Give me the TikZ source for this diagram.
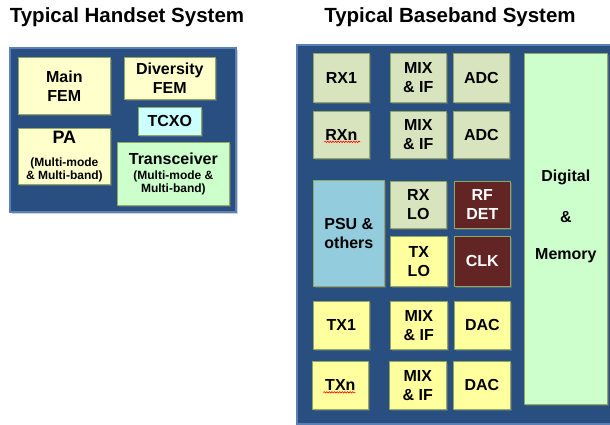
\documentclass[tikz,border=0pt]{standalone}
\usepackage{fontspec}
\setmainfont{Liberation Sans}
\usetikzlibrary{shadows,decorations.pathmorphing,calc}
\definecolor{panelblue}{HTML}{294E80}
\definecolor{panelrim}{HTML}{5A80B6}
\definecolor{boxrim}{HTML}{8FA862}
\definecolor{paleyellow}{HTML}{FFFFCC}
\definecolor{txyellow}{HTML}{FFFF9E}
\definecolor{rxgreen}{HTML}{D8E4BE}
\definecolor{mint}{HTML}{CCFFCC}
\definecolor{icecyan}{HTML}{CCFFFF}
\definecolor{psublue}{HTML}{93CDDD}
\definecolor{maroon}{HTML}{632523}
\newcommand\subtxt{\bfseries\fontsize{12}{12.5}\selectfont}
\tikzset{
  x=1pt, y=-1pt,
  panel/.style={draw=panelrim, line width=1.2pt, fill=panelblue,
    drop shadow={opacity=0.35, shadow xshift=2pt, shadow yshift=-2pt}},
  block/.style={draw=boxrim, line width=0.7pt, anchor=north west,
    inner sep=0pt, align=center, text=black,
    font=\bfseries\fontsize{16}{19}\selectfont,
    drop shadow={opacity=0.45, shadow xshift=1.5pt, shadow yshift=-1.5pt}},
  heading/.style={font=\bfseries\fontsize{20.5}{24}\selectfont, text=black},
  spell/.style={draw=red, line width=0.6pt,
    decorate, decoration={snake, amplitude=0.7pt, segment length=2.6pt}}
}
\begin{document}
\begin{tikzpicture}
\useasboundingbox (0,0) rectangle (610,425);

% ---------- handset ----------
\node[heading] (t1) at (127,17) {Typical Handset System};
\draw[panel] (10,48) rectangle (236,212);
\node[block, fill=paleyellow, minimum width=92, minimum height=57] (mainfem) at (18,57) {Main\\FEM};
\node[block, fill=paleyellow, minimum width=91, minimum height=42] (divfem) at (124,57) {Diversity\\FEM};
\node[block, fill=icecyan, minimum width=63, minimum height=28] (tcxo) at (138,107) {TCXO};
\node[block, fill=paleyellow, minimum width=92, minimum height=56] (pa) at (18,128)
  {\fontsize{18}{19}\selectfont PA\\[4.5pt]\subtxt (Multi-mode\\[-6pt]\subtxt \& Multi-band)};
\node[block, fill=mint, minimum width=112, minimum height=63] (trx) at (117,142)
  {Transceiver\\[-4pt]\subtxt (Multi-mode \&\\[-6pt]\subtxt Multi-band)};

% ---------- baseband ----------
\node[heading] (t2) at (450,17) {Typical Baseband System};
\draw[panel] (297,45) rectangle (625,424);

% receive chains
\node[block, fill=rxgreen, minimum width=56, minimum height=49] (rx1) at (313,53) {RX1};
\node[block, fill=rxgreen, minimum width=56, minimum height=49] (mix1) at (390,53) {MIX\\\& IF};
\node[block, fill=rxgreen, minimum width=56, minimum height=49] (adc1) at (453,53) {ADC};
\node[block, fill=rxgreen, minimum width=56, minimum height=47] (rxn) at (313,111) {RXn};
\node[block, fill=rxgreen, minimum width=56, minimum height=47] (mix2) at (390,111) {MIX\\\& IF};
\node[block, fill=rxgreen, minimum width=56, minimum height=47] (adc2) at (453,111) {ADC};

% support blocks
\node[block, fill=psublue, minimum width=71, minimum height=106] (psu) at (313,180) {PSU \&\\others};
\node[block, fill=rxgreen, minimum width=56, minimum height=47] (rxlo) at (390,181) {RX\\LO};
\node[block, fill=maroon, text=white, minimum width=56, minimum height=47] (rfdet) at (454,181) {RF\\DET};
\node[block, fill=txyellow, minimum width=57, minimum height=50] (txlo) at (390,236) {TX\\LO};
\node[block, fill=maroon, text=white, minimum width=56, minimum height=50] (clk) at (454,236) {CLK};

% transmit chains
\node[block, fill=txyellow, minimum width=56, minimum height=48] (tx1) at (313,301) {TX1};
\node[block, fill=txyellow, minimum width=57, minimum height=48] (mix3) at (390,301) {MIX\\\& IF};
\node[block, fill=txyellow, minimum width=56, minimum height=48] (dac1) at (454,301) {DAC};
\node[block, fill=txyellow, minimum width=56, minimum height=48] (txn) at (312,361) {TXn};
\node[block, fill=txyellow, minimum width=57, minimum height=48] (mix4) at (389,361) {MIX\\\& IF};
\node[block, fill=txyellow, minimum width=57, minimum height=48] (dac2) at (453,361) {DAC};

% digital core
\node[block, fill=mint, minimum width=83, minimum height=351] (dig) at (524,53) {};
\node[font=\bfseries\fontsize{16}{19}\selectfont] (dg1) at ($(dig.center)+(0,-51)$) {Digital};
\node[font=\bfseries\fontsize{16}{19}\selectfont] (dg2) at ($(dig.center)+(0,-12)$) {\&};
\node[font=\bfseries\fontsize{16}{19}\selectfont] (dg3) at ($(dig.center)+(0,27)$) {Memory};

% proofing marks under the abbreviations
\draw[spell] ($(rxn.center)+(-17,7)$) -- ($(rxn.center)+(19,7)$);
\draw[spell] ($(txn.center)+(-17,7)$) -- ($(txn.center)+(15,7)$);
\end{tikzpicture}
\end{document}
